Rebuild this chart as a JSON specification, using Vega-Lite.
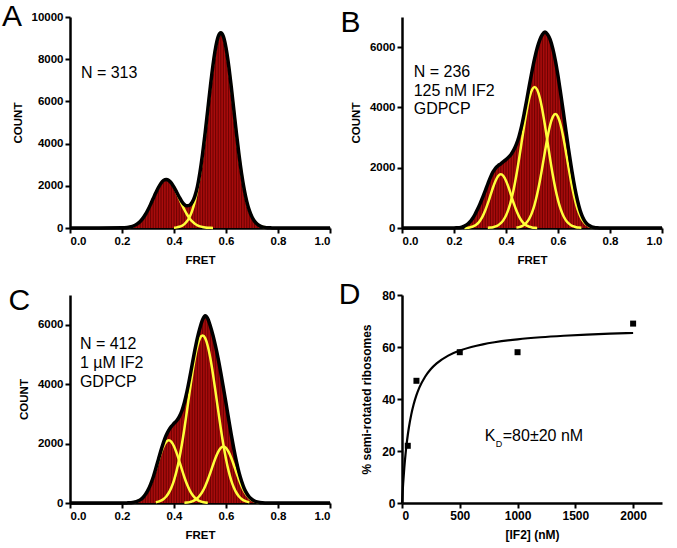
{
"$schema": "https://vega.github.io/schema/vega-lite/v6.json",
"padding": {"left": 2, "top": 2, "right": 5, "bottom": 5},
"background": "white",
"config": {
  "view": {"stroke": null},
  "font": "Liberation Sans",
  "axis": {"domainColor": "black", "domainWidth": 2.5, "tickColor": "black", "tickWidth": 2, "tickSize": 5, "labelFont": "Liberation Sans", "labelFontWeight": "bold", "labelFontSize": 11.5, "labelColor": "black", "titleFont": "Liberation Sans", "titleFontWeight": "bold", "titleFontSize": 11.5, "titleColor": "black", "grid": false, "labelPadding": 2, "titlePadding": 8},
  "title": {"anchor": "start", "frame": "bounds", "fontSize": 30, "fontWeight": "normal", "font": "Liberation Sans", "color": "black", "dx": -10, "dy": 25}
},
"datasets": {
"hist": [
{"panel":"A","fret":0.0,"count":0},{"panel":"A","fret":0.2,"count":7},{"panel":"A","fret":0.21,"count":14},{"panel":"A","fret":0.22,"count":26},{"panel":"A","fret":0.23,"count":46},{"panel":"A","fret":0.24,"count":78},{"panel":"A","fret":0.25,"count":129},{"panel":"A","fret":0.26,"count":204},{"panel":"A","fret":0.27,"count":311},{"panel":"A","fret":0.28,"count":455},{"panel":"A","fret":0.29,"count":639},{"panel":"A","fret":0.3,"count":863},{"panel":"A","fret":0.31,"count":1120},{"panel":"A","fret":0.32,"count":1395},{"panel":"A","fret":0.33,"count":1670},{"panel":"A","fret":0.34,"count":1921},{"panel":"A","fret":0.35,"count":2123},{"panel":"A","fret":0.36,"count":2254},{"panel":"A","fret":0.37,"count":2300},{"panel":"A","fret":0.38,"count":2254},{"panel":"A","fret":0.39,"count":2130},{"panel":"A","fret":0.4,"count":1935},{"panel":"A","fret":0.41,"count":1705},{"panel":"A","fret":0.42,"count":1470},{"panel":"A","fret":0.43,"count":1260},{"panel":"A","fret":0.44,"count":1110},{"panel":"A","fret":0.45,"count":1050},{"panel":"A","fret":0.46,"count":1080},{"panel":"A","fret":0.47,"count":1220},{"panel":"A","fret":0.48,"count":1500},{"panel":"A","fret":0.49,"count":1960},{"panel":"A","fret":0.5,"count":2650},{"panel":"A","fret":0.51,"count":3518},{"panel":"A","fret":0.52,"count":4529},{"panel":"A","fret":0.53,"count":5624},{"panel":"A","fret":0.54,"count":6723},{"panel":"A","fret":0.55,"count":7730},{"panel":"A","fret":0.56,"count":8539},{"panel":"A","fret":0.57,"count":9067},{"panel":"A","fret":0.58,"count":9250},{"panel":"A","fret":0.59,"count":9067},{"panel":"A","fret":0.6,"count":8539},{"panel":"A","fret":0.61,"count":7727},{"panel":"A","fret":0.62,"count":6716},{"panel":"A","fret":0.63,"count":5610},{"panel":"A","fret":0.64,"count":4503},{"panel":"A","fret":0.65,"count":3472},{"panel":"A","fret":0.66,"count":2572},{"panel":"A","fret":0.67,"count":1831},{"panel":"A","fret":0.68,"count":1252},{"panel":"A","fret":0.69,"count":822},{"panel":"A","fret":0.7,"count":519},{"panel":"A","fret":0.71,"count":315},{"panel":"A","fret":0.72,"count":183},{"panel":"A","fret":0.73,"count":103},{"panel":"A","fret":0.74,"count":56},{"panel":"A","fret":0.75,"count":29},{"panel":"A","fret":0.76,"count":14},{"panel":"A","fret":0.77,"count":6},{"panel":"A","fret":0.78,"count":3},{"panel":"A","fret":0.79,"count":1},{"panel":"A","fret":0.8,"count":0},{"panel":"A","fret":1.0,"count":0},
{"panel":"B","fret":0.0,"count":0},{"panel":"B","fret":0.2,"count":2},{"panel":"B","fret":0.21,"count":5},{"panel":"B","fret":0.22,"count":10},{"panel":"B","fret":0.23,"count":25},{"panel":"B","fret":0.24,"count":60},{"panel":"B","fret":0.25,"count":110},{"panel":"B","fret":0.26,"count":190},{"panel":"B","fret":0.27,"count":300},{"panel":"B","fret":0.28,"count":440},{"panel":"B","fret":0.29,"count":610},{"panel":"B","fret":0.3,"count":800},{"panel":"B","fret":0.31,"count":1010},{"panel":"B","fret":0.32,"count":1230},{"panel":"B","fret":0.33,"count":1460},{"panel":"B","fret":0.34,"count":1680},{"panel":"B","fret":0.35,"count":1860},{"panel":"B","fret":0.36,"count":1990},{"panel":"B","fret":0.37,"count":2070},{"panel":"B","fret":0.38,"count":2130},{"panel":"B","fret":0.39,"count":2200},{"panel":"B","fret":0.4,"count":2270},{"panel":"B","fret":0.41,"count":2350},{"panel":"B","fret":0.42,"count":2450},{"panel":"B","fret":0.43,"count":2590},{"panel":"B","fret":0.44,"count":2780},{"panel":"B","fret":0.45,"count":3040},{"panel":"B","fret":0.46,"count":3380},{"panel":"B","fret":0.47,"count":3800},{"panel":"B","fret":0.48,"count":4260},{"panel":"B","fret":0.49,"count":4740},{"panel":"B","fret":0.5,"count":5200},{"panel":"B","fret":0.51,"count":5620},{"panel":"B","fret":0.52,"count":5970},{"panel":"B","fret":0.53,"count":6240},{"panel":"B","fret":0.54,"count":6420},{"panel":"B","fret":0.55,"count":6500},{"panel":"B","fret":0.56,"count":6420},{"panel":"B","fret":0.57,"count":6250},{"panel":"B","fret":0.58,"count":5950},{"panel":"B","fret":0.59,"count":5550},{"panel":"B","fret":0.6,"count":5050},{"panel":"B","fret":0.61,"count":4480},{"panel":"B","fret":0.62,"count":3880},{"panel":"B","fret":0.63,"count":3260},{"panel":"B","fret":0.64,"count":2650},{"panel":"B","fret":0.65,"count":2080},{"panel":"B","fret":0.66,"count":1560},{"panel":"B","fret":0.67,"count":1110},{"panel":"B","fret":0.68,"count":740},{"panel":"B","fret":0.69,"count":460},{"panel":"B","fret":0.7,"count":270},{"panel":"B","fret":0.71,"count":150},{"panel":"B","fret":0.72,"count":80},{"panel":"B","fret":0.73,"count":40},{"panel":"B","fret":0.74,"count":18},{"panel":"B","fret":0.75,"count":8},{"panel":"B","fret":0.76,"count":3},{"panel":"B","fret":0.78,"count":0},{"panel":"B","fret":1.0,"count":0},
{"panel":"C","fret":0.0,"count":0},{"panel":"C","fret":0.2,"count":1},{"panel":"C","fret":0.21,"count":2},{"panel":"C","fret":0.22,"count":4},{"panel":"C","fret":0.23,"count":8},{"panel":"C","fret":0.24,"count":17},{"panel":"C","fret":0.25,"count":32},{"panel":"C","fret":0.26,"count":60},{"panel":"C","fret":0.27,"count":106},{"panel":"C","fret":0.28,"count":179},{"panel":"C","fret":0.29,"count":285},{"panel":"C","fret":0.3,"count":434},{"panel":"C","fret":0.31,"count":629},{"panel":"C","fret":0.32,"count":867},{"panel":"C","fret":0.33,"count":1165},{"panel":"C","fret":0.34,"count":1468},{"panel":"C","fret":0.35,"count":1771},{"panel":"C","fret":0.36,"count":2049},{"panel":"C","fret":0.37,"count":2279},{"panel":"C","fret":0.38,"count":2455},{"panel":"C","fret":0.39,"count":2580},{"panel":"C","fret":0.4,"count":2675},{"panel":"C","fret":0.41,"count":2769},{"panel":"C","fret":0.42,"count":2900},{"panel":"C","fret":0.43,"count":3096},{"panel":"C","fret":0.44,"count":3383},{"panel":"C","fret":0.45,"count":3754},{"panel":"C","fret":0.46,"count":4194},{"panel":"C","fret":0.47,"count":4668},{"panel":"C","fret":0.48,"count":5136},{"panel":"C","fret":0.49,"count":5560},{"panel":"C","fret":0.5,"count":5900},{"panel":"C","fret":0.51,"count":6170},{"panel":"C","fret":0.52,"count":6300},{"panel":"C","fret":0.53,"count":6200},{"panel":"C","fret":0.54,"count":5950},{"panel":"C","fret":0.55,"count":5640},{"panel":"C","fret":0.56,"count":5270},{"panel":"C","fret":0.57,"count":4850},{"panel":"C","fret":0.58,"count":4380},{"panel":"C","fret":0.59,"count":3880},{"panel":"C","fret":0.6,"count":3360},{"panel":"C","fret":0.61,"count":2830},{"panel":"C","fret":0.62,"count":2310},{"panel":"C","fret":0.63,"count":1830},{"panel":"C","fret":0.64,"count":1400},{"panel":"C","fret":0.65,"count":1030},{"panel":"C","fret":0.66,"count":730},{"panel":"C","fret":0.67,"count":490},{"panel":"C","fret":0.68,"count":320},{"panel":"C","fret":0.69,"count":200},{"panel":"C","fret":0.7,"count":120},{"panel":"C","fret":0.71,"count":68},{"panel":"C","fret":0.72,"count":36},{"panel":"C","fret":0.73,"count":17},{"panel":"C","fret":0.74,"count":8},{"panel":"C","fret":0.75,"count":3},{"panel":"C","fret":0.77,"count":0},{"panel":"C","fret":1.0,"count":0}
],
"comp": [
{"panel":"A","comp":"1","fret":0.2,"count":7},{"panel":"A","comp":"1","fret":0.21,"count":14},{"panel":"A","comp":"1","fret":0.22,"count":26},{"panel":"A","comp":"1","fret":0.23,"count":46},{"panel":"A","comp":"1","fret":0.24,"count":78},{"panel":"A","comp":"1","fret":0.25,"count":129},{"panel":"A","comp":"1","fret":0.26,"count":204},{"panel":"A","comp":"1","fret":0.27,"count":311},{"panel":"A","comp":"1","fret":0.28,"count":455},{"panel":"A","comp":"1","fret":0.29,"count":639},{"panel":"A","comp":"1","fret":0.3,"count":863},{"panel":"A","comp":"1","fret":0.31,"count":1120},{"panel":"A","comp":"1","fret":0.32,"count":1395},{"panel":"A","comp":"1","fret":0.33,"count":1670},{"panel":"A","comp":"1","fret":0.34,"count":1921},{"panel":"A","comp":"1","fret":0.35,"count":2123},{"panel":"A","comp":"1","fret":0.36,"count":2254},{"panel":"A","comp":"1","fret":0.37,"count":2300},{"panel":"A","comp":"1","fret":0.38,"count":2254},{"panel":"A","comp":"1","fret":0.39,"count":2123},{"panel":"A","comp":"1","fret":0.4,"count":1921},{"panel":"A","comp":"1","fret":0.41,"count":1670},{"panel":"A","comp":"1","fret":0.42,"count":1395},{"panel":"A","comp":"1","fret":0.43,"count":1120},{"panel":"A","comp":"1","fret":0.44,"count":863},{"panel":"A","comp":"1","fret":0.45,"count":639},{"panel":"A","comp":"1","fret":0.46,"count":455},{"panel":"A","comp":"1","fret":0.47,"count":311},{"panel":"A","comp":"1","fret":0.48,"count":204},{"panel":"A","comp":"1","fret":0.49,"count":129},{"panel":"A","comp":"1","fret":0.5,"count":78},{"panel":"A","comp":"1","fret":0.51,"count":46},{"panel":"A","comp":"1","fret":0.52,"count":26},{"panel":"A","comp":"1","fret":0.53,"count":14},{"panel":"A","comp":"1","fret":0.54,"count":7},{"panel":"A","comp":"1","fret":0.55,"count":3},
{"panel":"A","comp":"2","fret":0.4,"count":14},{"panel":"A","comp":"2","fret":0.41,"count":29},{"panel":"A","comp":"2","fret":0.42,"count":56},{"panel":"A","comp":"2","fret":0.43,"count":103},{"panel":"A","comp":"2","fret":0.44,"count":183},{"panel":"A","comp":"2","fret":0.45,"count":315},{"panel":"A","comp":"2","fret":0.46,"count":519},{"panel":"A","comp":"2","fret":0.47,"count":822},{"panel":"A","comp":"2","fret":0.48,"count":1252},{"panel":"A","comp":"2","fret":0.49,"count":1831},{"panel":"A","comp":"2","fret":0.5,"count":2572},{"panel":"A","comp":"2","fret":0.51,"count":3472},{"panel":"A","comp":"2","fret":0.52,"count":4503},{"panel":"A","comp":"2","fret":0.53,"count":5610},{"panel":"A","comp":"2","fret":0.54,"count":6716},{"panel":"A","comp":"2","fret":0.55,"count":7727},{"panel":"A","comp":"2","fret":0.56,"count":8539},{"panel":"A","comp":"2","fret":0.57,"count":9067},{"panel":"A","comp":"2","fret":0.58,"count":9250},{"panel":"A","comp":"2","fret":0.59,"count":9067},{"panel":"A","comp":"2","fret":0.6,"count":8539},{"panel":"A","comp":"2","fret":0.61,"count":7727},{"panel":"A","comp":"2","fret":0.62,"count":6716},{"panel":"A","comp":"2","fret":0.63,"count":5610},{"panel":"A","comp":"2","fret":0.64,"count":4503},{"panel":"A","comp":"2","fret":0.65,"count":3472},{"panel":"A","comp":"2","fret":0.66,"count":2572},{"panel":"A","comp":"2","fret":0.67,"count":1831},{"panel":"A","comp":"2","fret":0.68,"count":1252},{"panel":"A","comp":"2","fret":0.69,"count":822},{"panel":"A","comp":"2","fret":0.7,"count":519},{"panel":"A","comp":"2","fret":0.71,"count":315},{"panel":"A","comp":"2","fret":0.72,"count":183},{"panel":"A","comp":"2","fret":0.73,"count":103},{"panel":"A","comp":"2","fret":0.74,"count":56},{"panel":"A","comp":"2","fret":0.75,"count":29},{"panel":"A","comp":"2","fret":0.76,"count":14},
{"panel":"B","comp":"1","fret":0.24,"count":4},{"panel":"B","comp":"1","fret":0.25,"count":9},{"panel":"B","comp":"1","fret":0.26,"count":20},{"panel":"B","comp":"1","fret":0.27,"count":41},{"panel":"B","comp":"1","fret":0.28,"count":78},{"panel":"B","comp":"1","fret":0.29,"count":142},{"panel":"B","comp":"1","fret":0.3,"count":241},{"panel":"B","comp":"1","fret":0.31,"count":385},{"panel":"B","comp":"1","fret":0.32,"count":578},{"panel":"B","comp":"1","fret":0.33,"count":815},{"panel":"B","comp":"1","fret":0.34,"count":1080},{"panel":"B","comp":"1","fret":0.35,"count":1344},{"panel":"B","comp":"1","fret":0.36,"count":1571},{"panel":"B","comp":"1","fret":0.37,"count":1725},{"panel":"B","comp":"1","fret":0.38,"count":1780},{"panel":"B","comp":"1","fret":0.39,"count":1725},{"panel":"B","comp":"1","fret":0.4,"count":1571},{"panel":"B","comp":"1","fret":0.41,"count":1344},{"panel":"B","comp":"1","fret":0.42,"count":1080},{"panel":"B","comp":"1","fret":0.43,"count":815},{"panel":"B","comp":"1","fret":0.44,"count":578},{"panel":"B","comp":"1","fret":0.45,"count":385},{"panel":"B","comp":"1","fret":0.46,"count":241},{"panel":"B","comp":"1","fret":0.47,"count":142},{"panel":"B","comp":"1","fret":0.48,"count":78},{"panel":"B","comp":"1","fret":0.49,"count":41},{"panel":"B","comp":"1","fret":0.5,"count":20},{"panel":"B","comp":"1","fret":0.51,"count":9},{"panel":"B","comp":"1","fret":0.52,"count":4},
{"panel":"B","comp":"2","fret":0.33,"count":7},{"panel":"B","comp":"2","fret":0.34,"count":14},{"panel":"B","comp":"2","fret":0.35,"count":28},{"panel":"B","comp":"2","fret":0.36,"count":52},{"panel":"B","comp":"2","fret":0.37,"count":93},{"panel":"B","comp":"2","fret":0.38,"count":159},{"panel":"B","comp":"2","fret":0.39,"count":263},{"panel":"B","comp":"2","fret":0.4,"count":416},{"panel":"B","comp":"2","fret":0.41,"count":633},{"panel":"B","comp":"2","fret":0.42,"count":926},{"panel":"B","comp":"2","fret":0.43,"count":1301},{"panel":"B","comp":"2","fret":0.44,"count":1756},{"panel":"B","comp":"2","fret":0.45,"count":2278},{"panel":"B","comp":"2","fret":0.46,"count":2839},{"panel":"B","comp":"2","fret":0.47,"count":3398},{"panel":"B","comp":"2","fret":0.48,"count":3909},{"panel":"B","comp":"2","fret":0.49,"count":4320},{"panel":"B","comp":"2","fret":0.5,"count":4587},{"panel":"B","comp":"2","fret":0.51,"count":4680},{"panel":"B","comp":"2","fret":0.52,"count":4587},{"panel":"B","comp":"2","fret":0.53,"count":4320},{"panel":"B","comp":"2","fret":0.54,"count":3909},{"panel":"B","comp":"2","fret":0.55,"count":3398},{"panel":"B","comp":"2","fret":0.56,"count":2839},{"panel":"B","comp":"2","fret":0.57,"count":2278},{"panel":"B","comp":"2","fret":0.58,"count":1756},{"panel":"B","comp":"2","fret":0.59,"count":1301},{"panel":"B","comp":"2","fret":0.6,"count":926},{"panel":"B","comp":"2","fret":0.61,"count":633},{"panel":"B","comp":"2","fret":0.62,"count":416},{"panel":"B","comp":"2","fret":0.63,"count":263},{"panel":"B","comp":"2","fret":0.64,"count":159},{"panel":"B","comp":"2","fret":0.65,"count":93},{"panel":"B","comp":"2","fret":0.66,"count":52},{"panel":"B","comp":"2","fret":0.67,"count":28},{"panel":"B","comp":"2","fret":0.68,"count":14},{"panel":"B","comp":"2","fret":0.69,"count":7},
{"panel":"B","comp":"3","fret":0.44,"count":15},{"panel":"B","comp":"3","fret":0.45,"count":30},{"panel":"B","comp":"3","fret":0.46,"count":58},{"panel":"B","comp":"3","fret":0.47,"count":108},{"panel":"B","comp":"3","fret":0.48,"count":191},{"panel":"B","comp":"3","fret":0.49,"count":320},{"panel":"B","comp":"3","fret":0.5,"count":511},{"panel":"B","comp":"3","fret":0.51,"count":778},{"panel":"B","comp":"3","fret":0.52,"count":1127},{"panel":"B","comp":"3","fret":0.53,"count":1554},{"panel":"B","comp":"3","fret":0.54,"count":2039},{"panel":"B","comp":"3","fret":0.55,"count":2546},{"panel":"B","comp":"3","fret":0.56,"count":3027},{"panel":"B","comp":"3","fret":0.57,"count":3425},{"panel":"B","comp":"3","fret":0.58,"count":3688},{"panel":"B","comp":"3","fret":0.59,"count":3780},{"panel":"B","comp":"3","fret":0.6,"count":3688},{"panel":"B","comp":"3","fret":0.61,"count":3425},{"panel":"B","comp":"3","fret":0.62,"count":3027},{"panel":"B","comp":"3","fret":0.63,"count":2546},{"panel":"B","comp":"3","fret":0.64,"count":2039},{"panel":"B","comp":"3","fret":0.65,"count":1554},{"panel":"B","comp":"3","fret":0.66,"count":1127},{"panel":"B","comp":"3","fret":0.67,"count":778},{"panel":"B","comp":"3","fret":0.68,"count":511},{"panel":"B","comp":"3","fret":0.69,"count":320},{"panel":"B","comp":"3","fret":0.7,"count":191},{"panel":"B","comp":"3","fret":0.71,"count":108},{"panel":"B","comp":"3","fret":0.72,"count":58},{"panel":"B","comp":"3","fret":0.73,"count":30},{"panel":"B","comp":"3","fret":0.74,"count":15},
{"panel":"C","comp":"1","fret":0.23,"count":8},{"panel":"C","comp":"1","fret":0.24,"count":17},{"panel":"C","comp":"1","fret":0.25,"count":32},{"panel":"C","comp":"1","fret":0.26,"count":60},{"panel":"C","comp":"1","fret":0.27,"count":106},{"panel":"C","comp":"1","fret":0.28,"count":179},{"panel":"C","comp":"1","fret":0.29,"count":285},{"panel":"C","comp":"1","fret":0.3,"count":434},{"panel":"C","comp":"1","fret":0.31,"count":629},{"panel":"C","comp":"1","fret":0.32,"count":867},{"panel":"C","comp":"1","fret":0.33,"count":1138},{"panel":"C","comp":"1","fret":0.34,"count":1421},{"panel":"C","comp":"1","fret":0.35,"count":1689},{"panel":"C","comp":"1","fret":0.36,"count":1912},{"panel":"C","comp":"1","fret":0.37,"count":2058},{"panel":"C","comp":"1","fret":0.38,"count":2110},{"panel":"C","comp":"1","fret":0.39,"count":2058},{"panel":"C","comp":"1","fret":0.4,"count":1912},{"panel":"C","comp":"1","fret":0.41,"count":1689},{"panel":"C","comp":"1","fret":0.42,"count":1421},{"panel":"C","comp":"1","fret":0.43,"count":1138},{"panel":"C","comp":"1","fret":0.44,"count":867},{"panel":"C","comp":"1","fret":0.45,"count":629},{"panel":"C","comp":"1","fret":0.46,"count":434},{"panel":"C","comp":"1","fret":0.47,"count":285},{"panel":"C","comp":"1","fret":0.48,"count":179},{"panel":"C","comp":"1","fret":0.49,"count":106},{"panel":"C","comp":"1","fret":0.5,"count":60},{"panel":"C","comp":"1","fret":0.51,"count":32},{"panel":"C","comp":"1","fret":0.52,"count":17},{"panel":"C","comp":"1","fret":0.53,"count":8},
{"panel":"C","comp":"2","fret":0.33,"count":27},{"panel":"C","comp":"2","fret":0.34,"count":47},{"panel":"C","comp":"2","fret":0.35,"count":82},{"panel":"C","comp":"2","fret":0.36,"count":137},{"panel":"C","comp":"2","fret":0.37,"count":221},{"panel":"C","comp":"2","fret":0.38,"count":345},{"panel":"C","comp":"2","fret":0.39,"count":522},{"panel":"C","comp":"2","fret":0.4,"count":763},{"panel":"C","comp":"2","fret":0.41,"count":1080},{"panel":"C","comp":"2","fret":0.42,"count":1479},{"panel":"C","comp":"2","fret":0.43,"count":1958},{"panel":"C","comp":"2","fret":0.44,"count":2509},{"panel":"C","comp":"2","fret":0.45,"count":3110},{"panel":"C","comp":"2","fret":0.46,"count":3731},{"panel":"C","comp":"2","fret":0.47,"count":4329},{"panel":"C","comp":"2","fret":0.48,"count":4861},{"panel":"C","comp":"2","fret":0.49,"count":5279},{"panel":"C","comp":"2","fret":0.5,"count":5548},{"panel":"C","comp":"2","fret":0.51,"count":5640},{"panel":"C","comp":"2","fret":0.52,"count":5548},{"panel":"C","comp":"2","fret":0.53,"count":5279},{"panel":"C","comp":"2","fret":0.54,"count":4861},{"panel":"C","comp":"2","fret":0.55,"count":4329},{"panel":"C","comp":"2","fret":0.56,"count":3731},{"panel":"C","comp":"2","fret":0.57,"count":3110},{"panel":"C","comp":"2","fret":0.58,"count":2509},{"panel":"C","comp":"2","fret":0.59,"count":1958},{"panel":"C","comp":"2","fret":0.6,"count":1479},{"panel":"C","comp":"2","fret":0.61,"count":1080},{"panel":"C","comp":"2","fret":0.62,"count":763},{"panel":"C","comp":"2","fret":0.63,"count":522},{"panel":"C","comp":"2","fret":0.64,"count":345},{"panel":"C","comp":"2","fret":0.65,"count":221},{"panel":"C","comp":"2","fret":0.66,"count":137},{"panel":"C","comp":"2","fret":0.67,"count":82},{"panel":"C","comp":"2","fret":0.68,"count":47},{"panel":"C","comp":"2","fret":0.69,"count":27},
{"panel":"C","comp":"3","fret":0.44,"count":7},{"panel":"C","comp":"3","fret":0.45,"count":15},{"panel":"C","comp":"3","fret":0.46,"count":29},{"panel":"C","comp":"3","fret":0.47,"count":54},{"panel":"C","comp":"3","fret":0.48,"count":96},{"panel":"C","comp":"3","fret":0.49,"count":161},{"panel":"C","comp":"3","fret":0.5,"count":257},{"panel":"C","comp":"3","fret":0.51,"count":391},{"panel":"C","comp":"3","fret":0.52,"count":567},{"panel":"C","comp":"3","fret":0.53,"count":781},{"panel":"C","comp":"3","fret":0.54,"count":1025},{"panel":"C","comp":"3","fret":0.55,"count":1280},{"panel":"C","comp":"3","fret":0.56,"count":1521},{"panel":"C","comp":"3","fret":0.57,"count":1721},{"panel":"C","comp":"3","fret":0.58,"count":1854},{"panel":"C","comp":"3","fret":0.59,"count":1900},{"panel":"C","comp":"3","fret":0.6,"count":1854},{"panel":"C","comp":"3","fret":0.61,"count":1721},{"panel":"C","comp":"3","fret":0.62,"count":1521},{"panel":"C","comp":"3","fret":0.63,"count":1280},{"panel":"C","comp":"3","fret":0.64,"count":1025},{"panel":"C","comp":"3","fret":0.65,"count":781},{"panel":"C","comp":"3","fret":0.66,"count":567},{"panel":"C","comp":"3","fret":0.67,"count":391},{"panel":"C","comp":"3","fret":0.68,"count":257},{"panel":"C","comp":"3","fret":0.69,"count":161},{"panel":"C","comp":"3","fret":0.7,"count":96},{"panel":"C","comp":"3","fret":0.71,"count":54},{"panel":"C","comp":"3","fret":0.72,"count":29},{"panel":"C","comp":"3","fret":0.73,"count":15},{"panel":"C","comp":"3","fret":0.74,"count":7}
],
"binding": [
{"conc":50,"pct":22},{"conc":125,"pct":47},{"conc":500,"pct":58},{"conc":1000,"pct":58},{"conc":2000,"pct":69}
],
"fit": [
{"conc":0,"pct":0},{"conc":5,"pct":4.0},{"conc":10,"pct":7.56},{"conc":20,"pct":13.6},{"conc":30,"pct":18.55},{"conc":40,"pct":22.67},{"conc":50,"pct":26.15},{"conc":60,"pct":29.14},{"conc":80,"pct":34.0},{"conc":100,"pct":37.78},{"conc":125,"pct":41.46},{"conc":150,"pct":44.35},{"conc":200,"pct":48.57},{"conc":250,"pct":51.52},{"conc":300,"pct":53.68},{"conc":400,"pct":56.67},{"conc":500,"pct":58.62},{"conc":600,"pct":60.0},{"conc":700,"pct":61.03},{"conc":800,"pct":61.82},{"conc":1000,"pct":62.96},{"conc":1200,"pct":63.75},{"conc":1400,"pct":64.32},{"conc":1600,"pct":64.76},{"conc":1800,"pct":65.11},{"conc":2000,"pct":65.38}
]
},
"columns": 2,
"spacing": {"row": 14, "column": 1},
"concat": [
{
 "width": 260, "height": 211,
 "title": {"text": "A"},
 "encoding": {
   "x": {"field": "fret", "type": "quantitative", "scale": {"domain": [0, 1]}, "axis": {"values": [0, 0.2, 0.4, 0.6, 0.8, 1.0], "format": ".1f", "title": "FRET"}},
   "y": {"field": "count", "type": "quantitative", "scale": {"domain": [0, 10000]}, "axis": {"values": [0, 2000, 4000, 6000, 8000, 10000], "format": "d", "title": "COUNT"}}
 },
 "layer": [
   {"data": {"name": "hist"}, "transform": [{"filter": "datum.panel === 'A'"}], "mark": {"type": "area", "color": "#a80c0c", "interpolate": "monotone"}},
   {"data": {"name": "hist"}, "transform": [{"filter": "datum.panel === 'A'"}], "mark": {"type": "rule", "color": "#650000", "strokeWidth": 0.9}, "encoding": {"y2": {"datum": 0}}},
   {"data": {"name": "comp"}, "transform": [{"filter": "datum.panel === 'A'"}], "mark": {"type": "line", "color": "#ffff3a", "strokeWidth": 2.5, "interpolate": "monotone"}, "encoding": {"detail": {"field": "comp"}}},
   {"data": {"name": "hist"}, "transform": [{"filter": "datum.panel === 'A'"}], "mark": {"type": "line", "color": "black", "strokeWidth": 3.5, "interpolate": "monotone"}},
   {"data": {"values": [{"fret": 0.042, "count": 7740, "label": "N = 313"}]}, "mark": {"type": "text", "align": "left", "baseline": "top", "fontSize": 16, "font": "Liberation Sans", "fill": "black"}, "encoding": {"text": {"field": "label"}}}
 ]
},
{
 "width": 260, "height": 211,
 "title": {"text": "B"},
 "encoding": {
   "x": {"field": "fret", "type": "quantitative", "scale": {"domain": [0, 1]}, "axis": {"values": [0, 0.2, 0.4, 0.6, 0.8, 1.0], "format": ".1f", "title": "FRET"}},
   "y": {"field": "count", "type": "quantitative", "scale": {"domain": [0, 7000]}, "axis": {"values": [0, 2000, 4000, 6000], "format": "d", "title": "COUNT"}}
 },
 "layer": [
   {"data": {"name": "hist"}, "transform": [{"filter": "datum.panel === 'B'"}], "mark": {"type": "area", "color": "#a80c0c", "interpolate": "monotone"}},
   {"data": {"name": "hist"}, "transform": [{"filter": "datum.panel === 'B'"}], "mark": {"type": "rule", "color": "#650000", "strokeWidth": 0.9}, "encoding": {"y2": {"datum": 0}}},
   {"data": {"name": "comp"}, "transform": [{"filter": "datum.panel === 'B'"}], "mark": {"type": "line", "color": "#ffff3a", "strokeWidth": 2.5, "interpolate": "monotone"}, "encoding": {"detail": {"field": "comp"}}},
   {"data": {"name": "hist"}, "transform": [{"filter": "datum.panel === 'B'"}], "mark": {"type": "line", "color": "black", "strokeWidth": 3.5, "interpolate": "monotone"}},
   {"data": {"values": [{"fret": 0.045, "count": 5440, "label": "N = 236\n125 nM IF2\nGDPCP"}]}, "mark": {"type": "text", "align": "left", "baseline": "top", "fontSize": 16, "lineHeight": 18.5, "lineBreak": "\n", "font": "Liberation Sans", "fill": "black"}, "encoding": {"text": {"field": "label"}}}
 ]
},
{
 "width": 260, "height": 208,
 "title": {"text": "C"},
 "encoding": {
   "x": {"field": "fret", "type": "quantitative", "scale": {"domain": [0, 1]}, "axis": {"values": [0, 0.2, 0.4, 0.6, 0.8, 1.0], "format": ".1f", "title": "FRET"}},
   "y": {"field": "count", "type": "quantitative", "scale": {"domain": [0, 7000]}, "axis": {"values": [0, 2000, 4000, 6000], "format": "d", "title": "COUNT"}}
 },
 "layer": [
   {"data": {"name": "hist"}, "transform": [{"filter": "datum.panel === 'C'"}], "mark": {"type": "area", "color": "#a80c0c", "interpolate": "monotone"}},
   {"data": {"name": "hist"}, "transform": [{"filter": "datum.panel === 'C'"}], "mark": {"type": "rule", "color": "#650000", "strokeWidth": 0.9}, "encoding": {"y2": {"datum": 0}}},
   {"data": {"name": "comp"}, "transform": [{"filter": "datum.panel === 'C'"}], "mark": {"type": "line", "color": "#ffff3a", "strokeWidth": 2.5, "interpolate": "monotone"}, "encoding": {"detail": {"field": "comp"}}},
   {"data": {"name": "hist"}, "transform": [{"filter": "datum.panel === 'C'"}], "mark": {"type": "line", "color": "black", "strokeWidth": 3.5, "interpolate": "monotone"}},
   {"data": {"values": [{"fret": 0.038, "count": 5630, "label": "N = 412\n1 µM IF2\nGDPCP"}]}, "mark": {"type": "text", "align": "left", "baseline": "top", "fontSize": 16, "lineHeight": 19, "lineBreak": "\n", "font": "Liberation Sans", "fill": "black"}, "encoding": {"text": {"field": "label"}}}
 ]
},
{
 "width": 260, "height": 208,
 "title": {"text": "D", "dx": -22},
 "encoding": {
   "x": {"field": "conc", "type": "quantitative", "scale": {"domain": [0, 2250]}, "axis": {"values": [0, 500, 1000, 1500, 2000], "format": "d", "title": "[IF2] (nM)", "labelFontSize": 12, "titleFontSize": 12}},
   "y": {"field": "pct", "type": "quantitative", "scale": {"domain": [0, 80]}, "axis": {"values": [0, 20, 40, 60, 80], "format": "d", "title": "% semi-rotated ribosomes", "labelFontSize": 12, "titleFontSize": 12}}
 },
 "layer": [
   {"data": {"name": "fit"}, "mark": {"type": "line", "color": "black", "strokeWidth": 2.2, "interpolate": "monotone"}},
   {"data": {"name": "binding"}, "mark": {"type": "square", "color": "black", "filled": true, "opacity": 1, "size": 36}},
   {"data": {"values": [{"conc": 716, "pct": 25.6}]}, "mark": {"type": "text", "text": "K", "align": "left", "baseline": "middle", "fontSize": 16, "font": "Liberation Sans", "fill": "black"}},
   {"data": {"values": [{"conc": 716, "pct": 25.6}]}, "mark": {"type": "text", "text": "D", "align": "left", "baseline": "middle", "fontSize": 9, "dx": 11, "dy": 8, "font": "Liberation Sans", "fill": "black"}},
   {"data": {"values": [{"conc": 716, "pct": 25.6}]}, "mark": {"type": "text", "text": "=80±20 nM", "align": "left", "baseline": "middle", "fontSize": 16, "dx": 18, "font": "Liberation Sans", "fill": "black"}}
 ]
}
]
}
